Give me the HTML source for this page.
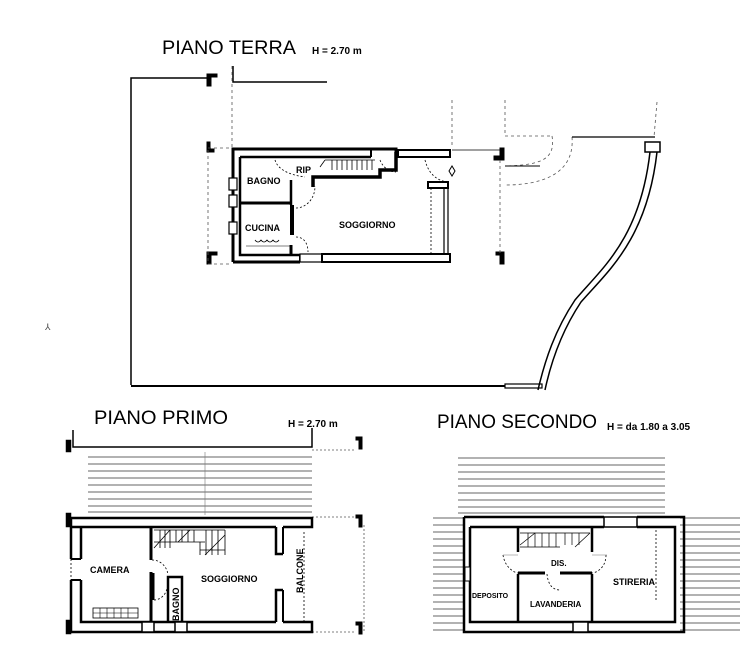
<!DOCTYPE html>
<html><head><meta charset="utf-8"><style>
html,body{margin:0;padding:0;background:#fff;}
svg{display:block;font-family:"Liberation Sans",sans-serif;}
</style></head><body>
<svg width="740" height="659" viewBox="0 0 740 659" xmlns="http://www.w3.org/2000/svg">
<rect width="740" height="659" fill="#fff"/>
<!-- ================= PIANO TERRA ================= -->
<text x="162" y="54" font-size="19" fill="#000" textLength="134" lengthAdjust="spacingAndGlyphs">PIANO  TERRA</text>
<text x="312" y="54" font-size="10" font-weight="bold" fill="#000">H = 2.70 m</text>
<g stroke="#000" fill="none">
  <path d="M131,385 L131,78 L207,78" stroke-width="1.5"/>
  <path d="M233,66 L233,82 L327,82" stroke-width="1.5"/>
  <path d="M131,386 L505,386" stroke-width="2"/>
  <rect x="505" y="384" width="37" height="4" stroke-width="1.2"/>
  <path d="M207,74 h10 v3 h-6 v9 h-4 z" fill="#000" stroke-width="1"/>
  <path d="M207,142 v10 h7 v-3 h-4 v-7 z" fill="#000" stroke-width="1"/>
  <path d="M207,252 v12 h4 v-9 h6 v-3 z" fill="#000" stroke-width="1"/>
  <path d="M500,148 v8 h-6 v4 h10 v-12 z" fill="#000" stroke-width="1"/>
  <path d="M496,252 h8 v12 h-4 v-9 h-4 z" fill="#000" stroke-width="1"/>
  <g stroke-width="0.8" stroke-dasharray="3,3" stroke="#555">
    <path d="M232,66 L232,148"/>
    <path d="M208,148 L232,148"/>
    <path d="M208,150 L208,262"/>
    <path d="M208,264 L232,264"/>
    <path d="M452,100 L452,148"/>
    <path d="M500,160 L500,255"/>
    <path d="M505,100 L505,136 L552,136"/>
    <path d="M657,102 L654,137"/>
    <path d="M552,136 C556,160 540,165 505,166" />
    <path d="M572,137 C575,175 540,185 505,185"/>
  </g>
  <path d="M452,150 L500,150" stroke-width="0.8"/>
  <path d="M572,137 L655,137" stroke-width="1.2"/>
  <path d="M505,166 L540,166" stroke-width="1"/>
  <rect x="645" y="142" width="15" height="10" stroke-width="1.5"/>
  <path d="M650,152 C640,240 600,270 575,300 C555,330 545,360 538,390" stroke-width="1.5"/>
  <path d="M657,152 C647,240 607,272 581,302 C561,332 551,362 545,390" stroke-width="1.5"/>
  <!-- house outer wall (double line) -->
  <path d="M233,262 L233,149 L396,149 L396,152" stroke-width="3"/>
  <path d="M233,262 L300,262" stroke-width="3"/>
  <path d="M240,157 L371,157 M240,157 L240,255 L300,255" stroke-width="2.5"/>
  <path d="M300,255 L300,262" stroke-width="2"/>
  <rect x="229" y="178" width="8" height="12" fill="#fff" stroke-width="1.2"/>
  <rect x="229" y="195" width="8" height="12" fill="#fff" stroke-width="1.2"/>
  <rect x="229" y="222" width="8" height="12" fill="#fff" stroke-width="1.2"/>
  <rect x="300" y="254" width="22" height="8" fill="#fff" stroke-width="1.2"/>
  <rect x="322" y="254" width="128" height="8" fill="#fff" stroke-width="2"/>
  <!-- stair block top -->
  <path d="M313,187 L313,177 L380,177 L380,170 L396,170 L396,152" stroke-width="3.5"/>
  <path d="M371,149 L371,157" stroke-width="2"/>
  <rect x="398" y="150" width="52" height="7" fill="#fff" stroke-width="2"/>
  <rect x="428" y="182" width="20" height="6" fill="#fff" stroke-width="2"/>
  <path d="M444,188 L444,255 M448,188 L448,255" stroke-width="1.2"/>
  <path d="M431,188 L431,254" stroke-width="0.8" stroke-dasharray="2,2"/>
  <!-- interior walls -->
  <path d="M240,203 L290,203" stroke-width="3"/>
  <path d="M291,180 L291,205" stroke-width="2.5"/>
  <path d="M292,205 L292,235" stroke-width="4"/>
  <path d="M291,245 L291,255" stroke-width="3"/>
  <g stroke-width="0.8">
    <path d="M332,160 L332,170"/><path d="M337,160 L337,170"/><path d="M342,160 L342,170"/><path d="M347,160 L347,170"/><path d="M352,160 L352,170"/><path d="M357,160 L357,170"/><path d="M362,160 L362,170"/><path d="M367,160 L367,170"/><path d="M372,160 L372,170"/>
    <path d="M325,160 L375,160"/>
    <path d="M320,167 L325,160"/>
  </g>
  <g stroke-width="0.8" stroke-dasharray="2,2">
    <path d="M275,160 C278,170 290,175 305,177"/>
    <path d="M296,208 C305,208 315,200 315,186"/>
    <path d="M296,237 C305,237 308,245 308,252"/>
    <path d="M380,160 C383,168 390,172 396,172"/>
    <path d="M425,160 C428,172 435,180 447,182"/>
  </g>
  <path d="M255,240 q3,4 6,0 q3,4 6,0 q3,4 6,0 q3,4 6,0" stroke-width="0.8"/>
  <path d="M246,246 L290,246" stroke-width="0.6"/>
  <path d="M452,166 l-3,5 l3,5 l3,-5 z" stroke-width="1"/>
</g>
<g font-size="9" font-weight="bold" fill="#000">
  <text x="247" y="184">BAGNO</text>
  <text x="296" y="173">RIP</text>
  <text x="245" y="231">CUCINA</text>
  <text x="339" y="228">SOGGIORNO</text>
</g>

<!-- ================= PIANO PRIMO ================= -->
<text x="94" y="424" font-size="19" fill="#000" textLength="134" lengthAdjust="spacingAndGlyphs">PIANO  PRIMO</text>
<text x="288" y="427" font-size="10" font-weight="bold" fill="#000">H = 2.70 m</text>
<g stroke="#000" fill="none">
  <path d="M73,430 L73,447 L312,447 L312,428" stroke-width="1.5"/>
  <rect x="66" y="440" width="5" height="12" fill="#000" stroke-width="0.5"/>
  <path d="M356,437 h6 v12 h-3 v-9 h-3 z" fill="#000" stroke-width="1"/>
  <g stroke-width="1" stroke="#666">
    <path d="M88,457 H312 M88,464 H312 M88,471 H312 M88,478 H312 M88,485 H312 M88,492 H312 M88,499 H312 M88,506 H312 M88,512 H312"/>
  </g>
  <path d="M205,452 L205,515" stroke-width="0.6" stroke="#777"/>
  <g stroke-width="0.8" stroke-dasharray="2,2" stroke="#555">
    <path d="M312,450 H356"/><path d="M312,517 H356"/><path d="M312,632 H356"/><path d="M364,525 V632"/>
  </g>
  <path d="M356,515 h6 v12 h-3 v-9 h-3 z" fill="#000" stroke-width="1"/>
  <path d="M356,622 h6 v12 h-3 v-9 h-3 z" fill="#000" stroke-width="1"/>
  <rect x="66" y="513" width="5" height="14" fill="#000" stroke-width="0.5"/>
  <rect x="66" y="620" width="5" height="14" fill="#000" stroke-width="0.5"/>
  <path d="M71,518 H312 V527 H283 M276,527 V554 H283" stroke-width="2.5"/>
  <path d="M71,518 V559 M71,580 V632 H312 V622 H283 M276,622 V590 H283" stroke-width="2.5"/>
  <path d="M71,527 H276 M81,527 V559 M81,580 V622 H276" stroke-width="2.5"/>
  <path d="M71,559 H81 M71,580 H81" stroke-width="2"/>
  <path d="M71,559 V580" stroke-width="0.8" stroke-dasharray="2,2"/>
  <path d="M304,532 V622" stroke-width="0.8" stroke-dasharray="2,2"/>
  <path d="M283,527 V554 M283,590 V622" stroke-width="2"/>
  <rect x="142" y="622" width="12" height="10" fill="#fff" stroke-width="1.5"/>
  <rect x="175" y="622" width="12" height="10" fill="#fff" stroke-width="1.5"/>
  <path d="M151,527 V560 M151,572 V622" stroke-width="3"/>
  <path d="M152,573 V600" stroke-width="5"/>
  <path d="M168,622 V577 H182 V622" stroke-width="2.5"/>
  <g stroke-width="0.8">
    <path d="M154,530 H225 M154,542 H205 M200,550 H225"/>
    <path d="M160,530 V548 M165,530 V548 M170,530 V548 M176,530 V542 M182,530 V542 M188,530 V542 M194,530 V542 M206,530 V555 M212,530 V555 M218,530 V555"/>
    <path d="M154,548 L170,530 M178,542 L190,530 M205,555 L225,535"/>
    <path d="M225,530 V555 M200,542 V555"/>
  </g>
  <g stroke-width="0.8" stroke-dasharray="2,2">
    <path d="M152,560 C160,560 167,566 168,575"/>
    <path d="M154,600 C160,600 166,595 167,588"/>
  </g>
  <rect x="93" y="608" width="45" height="10" stroke-width="0.8"/>
  <path d="M93,613 H138 M100,608 V618 M107,608 V618 M114,608 V618 M121,608 V618 M128,608 V618" stroke-width="0.6"/>
</g>
<g font-size="9" font-weight="bold" fill="#000">
  <text x="90" y="573">CAMERA</text>
  <text x="201" y="582">SOGGIORNO</text>
  <text transform="translate(179,621) rotate(-90)">BAGNO</text>
  <text transform="translate(303,593) rotate(-90)">BALCONE</text>
</g>

<!-- ================= PIANO SECONDO ================= -->
<text x="437" y="428" font-size="19" fill="#000" textLength="160" lengthAdjust="spacingAndGlyphs">PIANO  SECONDO</text>
<text x="607" y="430" font-size="10" font-weight="bold" fill="#000">H = da 1.80 a 3.05</text>
<g stroke="#000" fill="none">
  <g stroke-width="1" stroke="#666">
    <path d="M458,458 H665 M458,465 H665 M458,472 H665 M458,479 H665 M458,486 H665 M458,493 H665 M458,500 H665 M458,507 H665 M458,513 H665"/>
    <path d="M433,518 H464 M433,525 H464 M433,532 H464 M433,539 H464 M433,546 H464 M433,553 H464 M433,560 H464 M433,567 H464 M433,574 H464 M433,581 H464 M433,588 H464 M433,595 H464 M433,602 H464 M433,609 H464 M433,616 H464 M433,623 H464 M433,630 H464"/>
    <path d="M680,518 H740 M680,525 H740 M680,532 H740 M680,539 H740 M680,546 H740 M680,553 H740 M680,560 H740 M680,567 H740 M680,574 H740 M680,581 H740 M680,588 H740 M680,595 H740 M680,602 H740 M680,609 H740 M680,616 H740 M680,623 H740 M680,630 H740"/>
  </g>
  <path d="M464,517 H604 M637,517 H684 V632 H464 V517" stroke-width="2.5"/>
  <path d="M470,527 H604 M637,527 H675 V622 H470 V527" stroke-width="2.5"/>
  <rect x="604" y="517" width="33" height="10" fill="#fff" stroke-width="1.5"/>
  <rect x="573" y="622" width="15" height="10" fill="#fff" stroke-width="1.5"/>
  <rect x="465" y="567" width="5" height="14" fill="#fff" stroke-width="1"/>
  <path d="M518,527 V552 M518,574 V622" stroke-width="2.5"/>
  <path d="M592,527 V552 M592,574 V622" stroke-width="2.5"/>
  <path d="M518,573 H545 M560,573 H592" stroke-width="3"/>
  <g stroke-width="0.8" stroke-dasharray="2,2">
    <path d="M503,555 C505,568 515,573 518,573"/>
    <path d="M606,555 C606,568 596,573 592,573"/>
    <path d="M547,574 C548,585 553,590 560,590"/>
    <path d="M656,530 V600"/>
  </g>
  <path d="M503,555 H518 M592,555 H607" stroke-width="0.6" stroke="#777"/>
  <g stroke-width="0.7">
    <path d="M520,533 H590 M520,547 H560"/>
    <path d="M528,533 V547 M535,533 V547 M542,533 V547 M549,533 V547 M556,533 V547 M565,533 V545 M572,533 V545 M579,533 V545"/>
    <path d="M520,545 L535,533 M575,547 L590,533"/>
  </g>
</g>
<g font-size="8" font-weight="bold" fill="#000">
  <text x="551" y="566">DIS.</text>
  <text x="472" y="598" font-size="7">DEPOSITO</text>
  <text x="530" y="607">LAVANDERIA</text>
  <text x="613" y="585" font-size="9">STIRERIA</text>
</g>
<text x="45" y="330" font-size="9" fill="#444">⅄</text>
</svg>
</body></html>
